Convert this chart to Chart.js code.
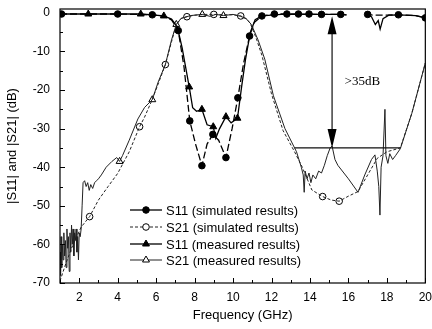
<!DOCTYPE html>
<html>
<head>
<meta charset="utf-8">
<script src="https://cdn.jsdelivr.net/npm/chart.js@4.4.1/dist/chart.umd.min.js"></script>
<style>
  html, body { margin: 0; padding: 0; background: #fff; }
  #wrap { width: 432px; height: 329px; }
</style>
</head>
<body>
<div id="wrap"><canvas id="chart" width="432" height="329"></canvas></div>
<script>
// ---- data (frequency in GHz, level in dB) ----
const xTicks = [2, 4, 6, 8, 10, 12, 14, 16, 18, 20];
const yTicks = [0, -10, -20, -30, -40, -50, -60, -70];
const legendLabels = [
  'S11 (simulated results)',
  'S21 (simulated results)',
  'S11 (measured results)',
  'S21 (measured results)',
];

// S11 simulated
const s11SimFreq = [1.0, 4.0, 5.8, 6.4, 6.8, 7.15, 7.45, 7.75, 8.05, 8.38, 8.65, 8.95, 9.25, 9.63, 9.95, 10.25, 10.55, 10.86, 11.1, 11.5, 12.15, 13.4, 14.6, 15.6, 15.9, 16.4, 16.9, 17.0, 17.3, 18.0, 18.6, 19.5, 20.0];
const s11SimDb   = [-0.3, -0.3, -0.5, -0.9, -1.8, -4.6, -14, -28, -34, -39.6, -34, -31.5, -33, -37.5, -30, -22, -13, -6, -2.5, -0.8, -0.3, -0.3, -0.4, -0.4, -0.5, null, -0.5, -0.4, -0.6, -0.6, -0.5, -0.7, -1.3];
const s11SimMarkFreq = [1.08, 4.0, 5.8, 7.15, 7.75, 8.38, 8.95, 9.63, 10.25, 10.86, 11.5, 12.15, 12.8, 13.4, 13.95, 14.6, 15.6, 17.0, 18.6, 20.0];
const s11SimMarkDb   = [-0.3, -0.3, -0.5, -4.6, -28, -39.6, -31.5, -37.5, -22, -6, -0.8, -0.3, -0.3, -0.3, -0.3, -0.4, -0.4, -0.4, -0.5, -1.3];

// S21 simulated
const s21SimFreq = [1.0, 1.3, 1.6, 2.1, 2.54, 3.0, 3.5, 4.0, 4.6, 5.14, 5.4, 5.75, 6.1, 6.48, 6.8, 7.05, 7.3, 7.6, 8.0, 8.5, 9.0, 9.5, 10.0, 10.4, 10.7, 10.9, 11.2, 11.5, 12.0, 12.6, 13.2, 13.6, 14.1, 14.66, 15.1, 15.52, 16.0, 16.5, 17.0, 17.5, 18.0, 18.7, 19.3, 20.0];
const s21SimDb   = [-69.5, -65, -61, -55.5, -52.8, -48.5, -45, -41.6, -36, -29.5, -27, -23, -18.5, -13.4, -7.5, -3, -1.5, -1.0, -0.6, -0.4, -0.4, -0.5, -0.5, -0.8, -1.5, -2.8, -6.5, -11, -21, -30.5, -36, -40, -45.9, -47.6, -48.5, -48.8, -47.5, -46.3, -42, -37.7, -36, -35, -26, -13];
const s21SimMarkFreq = [2.54, 5.14, 6.48, 7.6, 9.0, 10.4, 14.66, 15.52];
const s21SimMarkDb   = [-52.8, -29.5, -13.4, -1.0, -0.4, -0.8, -47.6, -48.8];

// S11 measured
const s11MeasFreq = [1.0, 2.47, 5.2, 6.4, 6.8, 7.1, 7.35, 7.72, 7.9, 8.1, 8.38, 8.65, 8.97, 9.1, 9.3, 9.63, 9.9, 10.23, 10.45, 10.65, 10.9, 11.15, 11.5, 12.5, 14.0, 15.6, 15.9, 16.4, 16.9, 17.2, 17.4, 17.55, 17.65, 17.8, 18.1, 18.6, 19.5, 20.0];
const s11MeasDb   = [-0.3, -0.3, -0.3, -0.8, -1.6, -3.6, -9, -19.2, -24.6, -25.5, -25, -29, -29.5, -32.5, -30, -26.9, -28.5, -27.3, -19, -12, -5, -1.8, -0.8, -0.4, -0.4, -0.4, -0.5, null, -0.5, -1.0, -3.0, -2.0, -4.2, -1.5, -0.6, -0.5, -0.7, -1.3];
const s11MeasMarkFreq = [2.47, 5.2, 6.4, 7.72, 8.38, 8.97, 9.63, 10.23];
const s11MeasMarkDb   = [-0.3, -0.3, -0.8, -19.2, -25, -29.5, -26.9, -27.3];

// S21 measured
const s21MeasFreq = [1.0, 1.03, 1.06, 1.09, 1.12, 1.16, 1.2, 1.24, 1.28, 1.32, 1.36, 1.4, 1.44, 1.48, 1.52, 1.56, 1.6, 1.64, 1.68, 1.72, 1.76, 1.8, 1.84, 1.88, 1.92, 1.96, 2.0, 2.05, 2.1, 2.15, 2.2, 2.28, 2.36, 2.44, 2.52, 2.6, 2.7, 2.8, 2.9, 3.0, 3.15, 3.4, 3.7, 3.95, 4.1, 4.25, 4.6, 5.05, 5.4, 5.8, 6.1, 6.48, 6.8, 7.05, 7.3, 7.8, 8.4, 8.8, 9.1, 9.5, 10.0, 10.4, 10.7, 10.95, 11.3, 11.65, 12.1, 12.7, 13.3, 13.55, 13.65, 13.7, 13.75, 13.85, 13.95, 14.05, 14.15, 14.3, 14.45, 14.6, 14.75, 14.9, 15.05, 15.15, 15.3, 15.45, 16.0, 16.5, 16.85, 17.2, 17.38, 17.5, 17.58, 17.64, 17.7, 17.8, 17.9, 17.95, 18.05, 18.15, 18.3, 18.45, 18.7, 19.3, 20.0];
const s21MeasDb   = [-62, -68, -58, -66, -60, -64, -57, -63, -59, -66, -56, -61, -58, -67, -57, -62, -55, -60, -56, -63, -57, -59, -56, -62, -58, -64, -57, -58, -56, -50, -44, -43.5, -45, -44, -46, -44.5, -45.5, -44, -43.5, -43, -42, -40, -38.5, -37.5, -38.5, -37, -33, -27.5, -24.5, -22.5, -18, -13.4, -7, -3, -1.4, -0.7, -0.4, -0.9, -0.4, -0.7, -0.4, -0.9, -1.6, -3, -7, -12, -21.5, -30, -36, -40, -42, -46.5, -41, -43, -41.5, -44, -42, -43, -41, -41.5, -39.5, -37, -35, -34.5, -38, -39.5, -43, -46.5, -42, -38, -36.8, -41, -45, -52.4, -40, -37, -25, -37, -39, -36.5, -38, -37, -35.2, -26, -13];
const s21MeasMarkFreq = [4.1, 5.8, 7.05, 8.4, 9.5];
const s21MeasMarkDb   = [-38.5, -22.5, -3, -0.4, -0.7];

// annotation: ">35dB" rejection marker
const arrowFreq = 15.15;
const arrowTopDb = -0.9;
const levelDb = -35;
const levelFreq = [13.2, 18.7];
const noteText = '>35dB';
const notePos = [15.8, -17.9];

const FONT = '"Liberation Sans", Arial, sans-serif';

function pts(fs, ds) {
  return fs.map((f, i) => ({ x: f, y: ds[i] }));
}

const lineStyles = [
  { pointStyle: 'circle',   fill: '#000', dash: [],     width: 1.3, color: '#000' },
  { pointStyle: 'circle',   fill: '#fff', dash: [3, 2], width: 1,   color: '#222' },
  { pointStyle: 'triangle', fill: '#000', dash: [],     width: 1.3, color: '#000' },
  { pointStyle: 'triangle', fill: '#fff', dash: [],     width: 1,   color: '#222' },
];

function lineSet(data, st) {
  return {
    data,
    borderColor: st.color,
    borderWidth: st.width,
    borderDash: st.dash,
    pointRadius: 0,
    tension: 0,
    spanGaps: false,
  };
}

function markSet(data, st) {
  return {
    data,
    showLine: false,
    pointStyle: st.pointStyle,
    pointRadius: st.pointStyle === 'triangle' ? 4 : 3.3,
    backgroundColor: st.fill,
    borderColor: '#000',
    borderWidth: 1,
  };
}

// inward ticks + frame box
const framePlugin = {
  id: 'frame',
  afterDatasetsDraw(chart) {
    const { ctx, chartArea: a, scales: { x, y } } = chart;
    ctx.save();
    ctx.strokeStyle = '#000';
    ctx.lineWidth = 1.2;
    ctx.strokeRect(a.left, a.top, a.right - a.left, a.bottom - a.top);
    ctx.lineWidth = 1;
    ctx.beginPath();
    for (let f = 1; f <= 20; f++) {
      const px = Math.round(x.getPixelForValue(f)) + 0.5;
      const len = f % 2 === 0 ? 5 : 3;
      ctx.moveTo(px, a.bottom);
      ctx.lineTo(px, a.bottom - len);
    }
    for (let v = 0; v >= -70; v -= 5) {
      const py = Math.round(y.getPixelForValue(v)) + 0.5;
      const len = v % 10 === 0 ? 5 : 3;
      ctx.moveTo(a.left, py);
      ctx.lineTo(a.left + len, py);
    }
    ctx.stroke();
    ctx.restore();
  },
};

// double arrow, level line and label
const notePlugin = {
  id: 'note',
  afterDatasetsDraw(chart) {
    const { ctx, scales: { x, y } } = chart;
    const ax = x.getPixelForValue(arrowFreq);
    const yTop = y.getPixelForValue(arrowTopDb);
    const yBot = y.getPixelForValue(levelDb);
    ctx.save();
    ctx.strokeStyle = '#111';
    ctx.fillStyle = '#000';
    ctx.lineWidth = 1.2;
    ctx.beginPath();
    ctx.moveTo(x.getPixelForValue(levelFreq[0]), yBot);
    ctx.lineTo(x.getPixelForValue(levelFreq[1]), yBot);
    ctx.moveTo(ax, yTop + 10);
    ctx.lineTo(ax, yBot - 10);
    ctx.stroke();
    ctx.beginPath();
    ctx.moveTo(ax, yTop);
    ctx.lineTo(ax - 4.5, yTop + 18);
    ctx.lineTo(ax + 4.5, yTop + 18);
    ctx.closePath();
    ctx.moveTo(ax, yBot);
    ctx.lineTo(ax - 4.5, yBot - 19);
    ctx.lineTo(ax + 4.5, yBot - 19);
    ctx.closePath();
    ctx.fill();
    ctx.font = '13px "Liberation Serif", "Times New Roman", serif';
    ctx.textAlign = 'left';
    ctx.textBaseline = 'middle';
    ctx.fillText(noteText, x.getPixelForValue(notePos[0]), y.getPixelForValue(notePos[1]));
    ctx.restore();
  },
};

// in-plot legend: line with marker, then label
const legendPlugin = {
  id: 'innerLegend',
  afterDraw(chart) {
    const { ctx } = chart;
    const x0 = 130, x1 = 162, rowY = [210, 227, 244, 260];
    ctx.save();
    legendLabels.forEach((label, i) => {
      const st = lineStyles[i];
      const yy = rowY[i];
      ctx.strokeStyle = st.color;
      ctx.lineWidth = st.width;
      ctx.setLineDash(i === 1 ? [3, 2] : []);
      ctx.beginPath();
      ctx.moveTo(x0, yy);
      ctx.lineTo(x1, yy);
      ctx.stroke();
      ctx.setLineDash([]);
      ctx.fillStyle = st.fill;
      ctx.strokeStyle = '#000';
      ctx.lineWidth = 1;
      Chart.helpers.drawPoint(ctx, {
        pointStyle: st.pointStyle,
        radius: st.pointStyle === 'triangle' ? 4 : 3.3,
        borderWidth: 1,
        rotation: 0,
      }, (x0 + x1) / 2, yy);
      ctx.fillStyle = '#000';
      ctx.font = '13px ' + FONT;
      ctx.textAlign = 'left';
      ctx.textBaseline = 'middle';
      ctx.fillText(label, x1 + 4, yy + 1);
    });
    ctx.restore();
  },
};

new Chart(document.getElementById('chart').getContext('2d'), {
  type: 'line',
  data: {
    datasets: [
      lineSet(pts(s21MeasFreq, s21MeasDb), lineStyles[3]),
      lineSet(pts(s21SimFreq, s21SimDb), lineStyles[1]),
      lineSet(pts(s11MeasFreq, s11MeasDb), lineStyles[2]),
      lineSet(pts(s11SimFreq, s11SimDb), Object.assign({}, lineStyles[0], { dash: [7, 3] })),
      markSet(pts(s21MeasMarkFreq, s21MeasMarkDb), lineStyles[3]),
      markSet(pts(s21SimMarkFreq, s21SimMarkDb), lineStyles[1]),
      markSet(pts(s11MeasMarkFreq, s11MeasMarkDb), lineStyles[2]),
      markSet(pts(s11SimMarkFreq, s11SimMarkDb), lineStyles[0]),
    ],
  },
  options: {
    animation: false,
    responsive: false,
    layout: { padding: { top: 9, right: 6, left: 0, bottom: 0 } },
    plugins: {
      legend: { display: false },
      tooltip: { enabled: false },
    },
    scales: {
      x: {
        type: 'linear',
        min: 1,
        max: 20,
        afterBuildTicks: (s) => { s.ticks = xTicks.map((v) => ({ value: v })); },
        afterFit: (s) => { s.height = 46; },
        // tick marks are drawn inward by the frame plugin; tickLength only spaces the labels
        grid: { display: false, drawTicks: true, tickLength: 7 },
        border: { display: false },
        ticks: { color: '#000', font: { family: FONT, size: 12 }, padding: 0, maxRotation: 0, autoSkip: false },
        title: {
          display: true,
          text: 'Frequency (GHz)',
          color: '#000',
          font: { family: FONT, size: 13 },
          padding: { top: 0, bottom: 6 },
        },
      },
      y: {
        min: -70,
        max: 1,
        afterBuildTicks: (s) => { s.ticks = yTicks.map((v) => ({ value: v })); },
        afterFit: (s) => { s.width = 60; },
        grid: { display: false, drawTicks: true, tickLength: 10 },
        border: { display: false },
        ticks: { color: '#000', font: { family: FONT, size: 12 }, padding: 0 },
        title: {
          display: true,
          text: '|S11| and |S21| (dB)',
          color: '#000',
          font: { family: FONT, size: 13 },
          padding: { top: 5, bottom: 0 },
        },
      },
    },
  },
  plugins: [framePlugin, notePlugin, legendPlugin],
});
</script>
</body>
</html>
